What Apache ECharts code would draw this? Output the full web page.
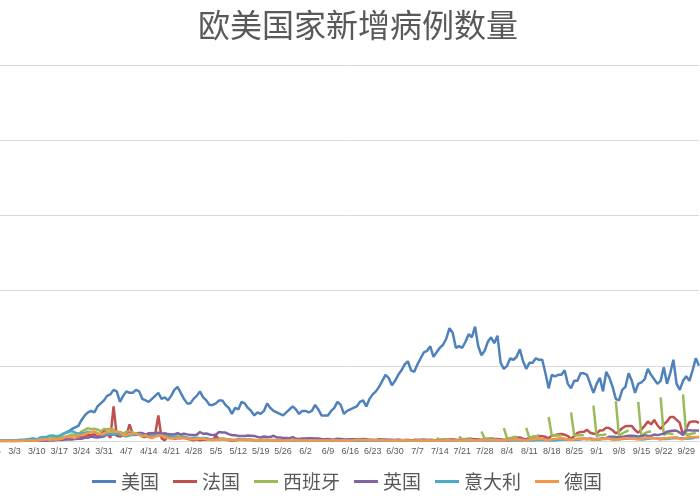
<!DOCTYPE html>
<html><head><meta charset="utf-8">
<script src="https://cdn.jsdelivr.net/npm/echarts@6/dist/echarts.min.js"></script>
<style>html,body{margin:0;padding:0;background:#fff;overflow:hidden}#c{width:720px;height:500px;position:relative;left:-20px}</style>
</head><body><div id="c"></div>
<script>
const startDate = [2020, 2, 25];
const dayCount = 222;
const usa = [5,10,10,15,20,30,40, 60,80,100,150,250,300,400, 500,600,700,900,1200,1500,2000, 3000,4500,5500,6500,8000,9000,10000, 14000,17000,19000,20000,19000,23000,25000, 27000,30000,31000,34000,33000,26000,30000, 33000,32000,32000,34000,33000,28000,27000, 26000,28000,30000,32000,28000,29000,27000, 30000,34000,36000,32000,28000,25000,25000, 28000,30000,33000,29000,27000,24000,24000, 25000,27000,27000,24000,22000,18000,22000, 21000,26000,25000,22000,20000,17000,19000, 18000,20000,25000,22000,20000,19000,18000, 17000,19000,21000,23000,21000,18000,20000, 20000,19000,20000,24000,21000,17000,17000, 17000,20000,22000,26000,24000,18000,20000, 21000,22000,23000,26000,27000,23000,28000, 31000,33000,36000,40000,44000,42000,37000, 40000,44000,47000,51000,53000,47000,46000, 51000,55000,59000,60000,63000,56000,59000, 62000,64000,68000,75000,72000,62000,63000, 62000,66000,71000,69000,76000,63000,57000, 60000,66000,69000,65000,70000,52000,48000, 50000,55000,54000,56000,61000,53000,48000, 52000,52000,55000,54000,54000,45000,35000, 44000,43000,44000,44000,47000,38000,35000, 40000,40000,45000,45000,44000,38000,32000, 38000,42000,33000,46000,42000,36000,28000, 27000,34000,36000,45000,40000,32000,38000, 39000,41000,48000,44000,41000,38000,40000, 49000,38000,45000,54000,38000,34000,40000, 43000,40000,47000,55000,50000];
const france = [2,3,5,10,20,40,30, 50,80,100,180,200,230,300, 370,500,600,800,900,800,1000, 1100,1400,1800,1600,1800,1500,3800, 2400,2900,3900,3800,4600,2600,4400, 7600,4800,2100,23000,3500,2900,3700, 3800,11000,4400,4800,4700,2900,2700, 5400,2600,4300,17000,1900,400,3500, 2600,1500,1800,1800,2500,1500,1000, 500,1200,500,1000,600,1200,600, 3700,1000,1500,1100,500,200,400, 800,800,600,600,900,300,200, 500,600,700,200,400,250,100, 300,200,1000,400,400,500,300, 300,700,500,600,500,300,200, 500,400,300,400,500,400,200, 400,400,500,500,500,400,300, 400,500,600,600,500,300,400, 500,600,500,600,600,400,300, 600,700,800,700,500,400,300, 600,800,1000,1000,1000,800,500, 1000,1200,1300,1300,1200,1000,600, 1000,1200,1400,1300,1300,1000,700, 1000,1600,2000,2200,2300,1500,800, 2400,2600,3000,3300,3200,2800,1800, 3700,3800,4500,4700,4200,3300,1500, 3300,5400,6000,6100,7400,5500,4800, 4900,7000,7200,8900,8500,7100,5000, 6500,8500,9800,10000,9900,7300,5500, 7800,10000,13000,11000,14000,10500,8000, 11000,13000,16000,16000,14000,12000,4000, 8000,12500,13000,13000,12000];
const spain = [1,3,5,10,20,30,40, 50,70,100,150,200,350,500, 600,800,1200,2000,1500,2000,2100, 2100,2500,2900,3500,4300,3800,4500, 6300,7400,8600,7900,8200,7500,6500, 8000,7800,8100,7500,6000,6000,5000, 6200,6200,5700,4600,4800,4100,3500, 3000,5000,5100,5300,4500,4300,4000, 4200,4200,4600,4500,3000,2000,1800, 1700,1800,1800,1800,1500,1000,900, 1000,1300,1100,1000,900,600,500, 600,700,700,600,500,300,300, 400,300,400,500,400,300,200, 300,300,300,300,300,300,200, 300,300,300,300,300,200,200, 300,300,300,400,300,300,200, 300,300,350,400,350,200,300, 300,400,350,400,300,300,500, 400,400,400,500,null,null,1500, 400,600,800,900,null,null,2000, 800,900,1000,1100,null,null,3000, 1000,1300,1500,1600,null,null,6300, 1600,1700,1800,1900,null,null,8500, 1800,2000,2500,3000,null,null,8800, 1600,3000,3000,3900,null,null,16000, 3500,3700,3800,3700,null,null,19000, 3600,3800,3800,4000,null,null,23500, 3000,4000,4000,4500,null,null,26500, 3500,5000,6000,7000,null,null,26000, 3000,5000,6000,6500,null,null,29000, 4000,5000,5000,4500,null,null,31000, 4000,4500,5000,5500,null];
const uk = [0,0,5,5,10,10,15, 20,30,40,50,100,100,200, 300,400,400,200,300,400,700, 600,700,1000,1000,1000,1400,1500, 1500,2100,2200,2900,2500,2400,2600, 3000,4300,4200,4400,3700,5900,3800, 3600,5500,4300,5200,5300,5300,4300, 4600,5300,5000,5500,4900,5200,4600, 4300,4400,5300,4300,4900,4400,4000, 4000,4200,6000,4800,5000,4300,3900, 4400,6000,5600,5600,4600,3900,3800, 3400,3400,3400,3600,3500,3400,2700, 2400,3000,2600,2600,3500,2400,2400, 2000,2000,1900,2600,1500,1300,1600, 1600,1900,1800,1600,1600,1300,1200, 1400,1000,1200,1500,1400,1100,1000, 1200,1100,1200,1200,1300,1100,900, 900,650,1100,1000,1000,900,800, 700,800,600,500,600,500,400, 600,600,600,500,800,600,500, 500,600,500,700,800,500,600, 450,650,800,750,750,700,600, 600,700,800,900,700,750,700, 700,900,950,870,750,1000,800, 1100,1000,800,1400,1000,1000,700, 800,1200,1100,1000,1300,1000,800, 1000,1300,1200,1500,1100,1700,1000, 1300,1500,1800,1900,2900,2900,2600, 2300,2700,3100,3500,3500,3300,3000, 3100,3900,3400,3400,4300,3900,4400, 4900,6200,6600,6900,6800,5600,4000, 7100,7100,6900,6900,7000];
const italy = [93,78,250,238,240,566,342, 466,587,769,778,1247,1492,1797, 977,2313,2651,2547,3497,3590,3233, 3526,4207,5322,5986,6557,5560,4789, 5249,5210,6153,5959,5974,5217,4050, 4053,4782,4668,4585,4805,4316,3599, 3039,3836,4204,3951,4694,4092,3153, 2972,2667,3786,3493,3491,3047,2256, 2729,3370,2646,3021,2357,2324,1739, 2091,2086,1872,1965,1900,1389,1221, 1075,1444,1401,1327,1083,802,744, 1402,888,992,789,875,675,451, 813,665,642,652,669,531,300, 397,584,593,516,416,355,178, 318,321,177,518,270,197,280, 283,202,379,163,346,338,301, 210,328,331,251,262,224,218, 122,190,296,259,175,174,126, 142,187,201,223,235,192,208, 138,193,229,276,188,234,169, 114,162,230,233,249,219,218, 190,129,280,306,252,275,255, 170,212,289,386,379,295,239, 159,190,384,402,552,347,463, 259,412,481,523,574,629,479, 320,403,642,845,947,1071,1210, 953,878,1367,1462,1444,1365,1297, 996,978,1326,1397,1733,1695,1297, 1108,1370,1434,1597,1616,1638,1458, 1008,1229,1452,1585,1907,1638,1587, 1391,1392,1640,1786,1912,1869,1766, 1494,1648,1851,2548,2499];
const germany = [2,4,10,20,30,50,60, 40,50,150,200,250,300,200, 400,600,1000,1200,900,1000,1000, 1200,1600,2900,2600,2500,1900,4000, 3800,4300,5500,5800,6300,4900,4500, 4900,6200,6200,6200,6100,5900,4000, 3900,4900,4900,5300,4100,3100,3800, 2500,2000,2900,3400,3600,2400,2000, 1700,1800,2200,2400,1600,1800,1400, 1100,1300,1500,1600,1000,900,700, 700,1000,1100,1200,700,600,900, 600,800,900,900,600,500,500, 500,800,700,500,600,450,300, 400,350,500,700,600,400,300, 350,350,500,400,250,300,250, 300,400,600,400,300,250,200, 400,500,800,800,700,600,500, 500,600,600,500,400,300,300, 400,400,500,500,300,250,200, 300,400,400,400,300,250,200, 350,400,500,500,400,300,250, 400,500,600,700,500,400,300, 600,700,900,900,800,400,300, 600,800,1000,1100,1000,500,400, 1000,1200,1300,1400,1300,900,700, 1200,1400,1700,2000,1500,1000,700, 1200,1500,1600,1500,1500,1100,800, 1200,1400,1500,1700,1300,800,900, 1100,1600,1900,1800,1500,1300,900, 1400,1800,2200,2100,1900,1400,1000, 1800,1800,2100,2300,2500,1400,1200, 2000,2800,2500,2600,2700];
const seriesNames = ['美国','法国','西班牙','英国','意大利','德国'];
const seriesColors = ['#4f81bd','#c0504d','#9bbb59','#8064a2','#4bacc6','#f79646'];
const seriesData = [usa, france, spain, uk, italy, germany];

const categories = [];
for (let i = 0; i < dayCount; i++) {
  const d = new Date(startDate[0], startDate[1]-1, startDate[2]+i);
  categories.push((d.getMonth()+1) + '/' + d.getDate());
}
const chart = echarts.init(document.getElementById('c'));
chart.setOption({
  animation:false,
  title:{text:'欧美国家新增病例数量',left:373,textAlign:'center',top:4,textStyle:{fontSize:32,fontWeight:'normal',color:'#595959',fontFamily:'Noto Sans CJK SC'}},
  legend:{bottom:4,left:107,itemWidth:24,itemHeight:3,itemGap:14,icon:'rect',
    textStyle:{fontSize:19,color:'#595959',fontFamily:'Noto Sans CJK SC'},data:seriesNames},
  grid:{left:12,right:1,top:65,bottom:59,containLabel:false},
  xAxis:{type:'category',data:categories,boundaryGap:false,
    axisLine:{lineStyle:{color:'#d9d9d9'}},axisTick:{show:false},
    axisLabel:{interval:6,fontSize:9,color:'#595959',margin:6}},
  yAxis:{type:'value',min:0,max:250000,interval:50000,axisLabel:{show:false},
    splitLine:{lineStyle:{color:'#d9d9d9'}},axisLine:{show:false},axisTick:{show:false}},
  series:seriesNames.map((n,i)=>({name:n,type:'line',data:seriesData[i],showSymbol:false,
    connectNulls:false,lineStyle:{width:2.5,color:seriesColors[i]},itemStyle:{color:seriesColors[i]}}))
});
</script></body></html>
